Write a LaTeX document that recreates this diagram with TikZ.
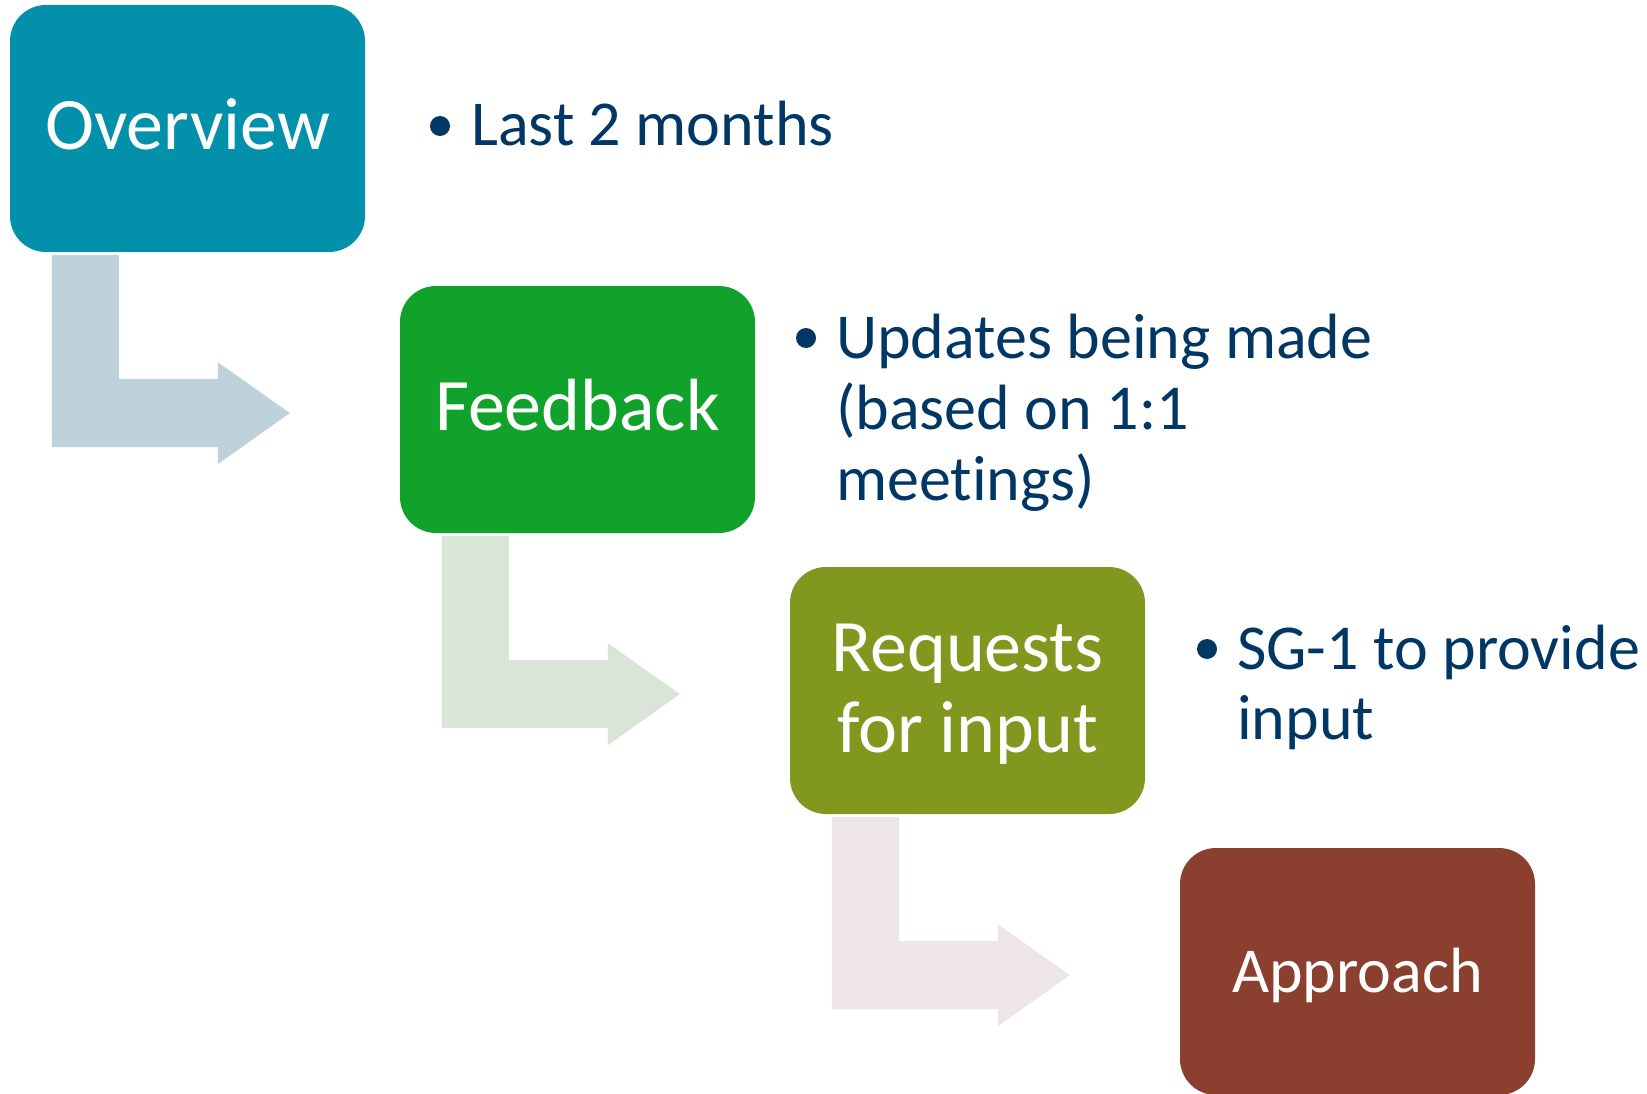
\documentclass[tikz,border=0pt]{standalone}
\usepackage{fontspec}
\setmainfont{Carlito}[Ligatures=NoCommon]
\usetikzlibrary{calc}
\definecolor{cOv}{RGB}{3,144,171}
\definecolor{cFb}{RGB}{16,162,43}
\definecolor{cRq}{RGB}{128,152,30}
\definecolor{cAp}{RGB}{139,63,46}
\definecolor{cA1}{RGB}{189,210,219}
\definecolor{cA2}{RGB}{217,229,214}
\definecolor{cA3}{RGB}{238,230,230}
\definecolor{navy}{RGB}{0,55,101}
\begin{document}
\begin{tikzpicture}[x=1pt,y=-1pt,
  box/.style={rectangle, rounded corners=36pt, minimum width=355pt, minimum height=247pt,
    inner sep=0pt, text=white, font=\fontsize{74}{81}\selectfont, align=center,
    text height=52pt, text depth=10pt},
  bul/.style={circle, fill=navy, inner sep=0pt, minimum size=20pt},
  btext/.style={anchor=base west, inner sep=0pt, text=navy, align=left}]
\useasboundingbox (0,0) rectangle (1647,1094);
\fill[white] (0,0) rectangle (1647,1094);

% boxes
\node[box, fill=cOv] (ov) at (187.5,128.5) {Overview};
\node[box, fill=cFb] (fb) at (577.5,409.5) {Feedback};
\node[box, fill=cRq, text height=133pt] (rq) at (967.5,690.5) {Requests\\for input};
\node[box, fill=cAp, font=\fontsize{64}{70}\selectfont] (ap) at (1357.5,971.5) {Approach};

% bent arrows from box to box
\foreach \src/\dst/\col in {ov/fb/cA1, fb/rq/cA2, rq/ap/cA3}{
  \fill[\col] ($(\src.south west)+(42,3)$) -- ++(67,0) -- ++(0,124) -- ++(99,0)
     -- ++(0,-17) -- ($(\dst.west)+(-110,3.5)$) -- ($(\src.south west)+(208,212)$)
     -- ++(0,-17) -- ($(\src.south west)+(42,195)$) -- cycle;
}

% bullets
\node[bul] (b1) at (440,126) {};
\node[btext, font=\fontsize{64}{71}\selectfont] (t1) at (471,146) {Last 2 months};
\node[bul] (b2) at (806,338) {};
\node[btext, font=\fontsize{64}{71}\selectfont] (t2) at (836,500) {Updates being made\\(based on 1:1\\meetings)};
\node[bul] (b3) at (1207,649) {};
\node[btext, font=\fontsize{64}{70}\selectfont] (t3) at (1237,739) {SG-1 to provide\\input};
\end{tikzpicture}
\end{document}
